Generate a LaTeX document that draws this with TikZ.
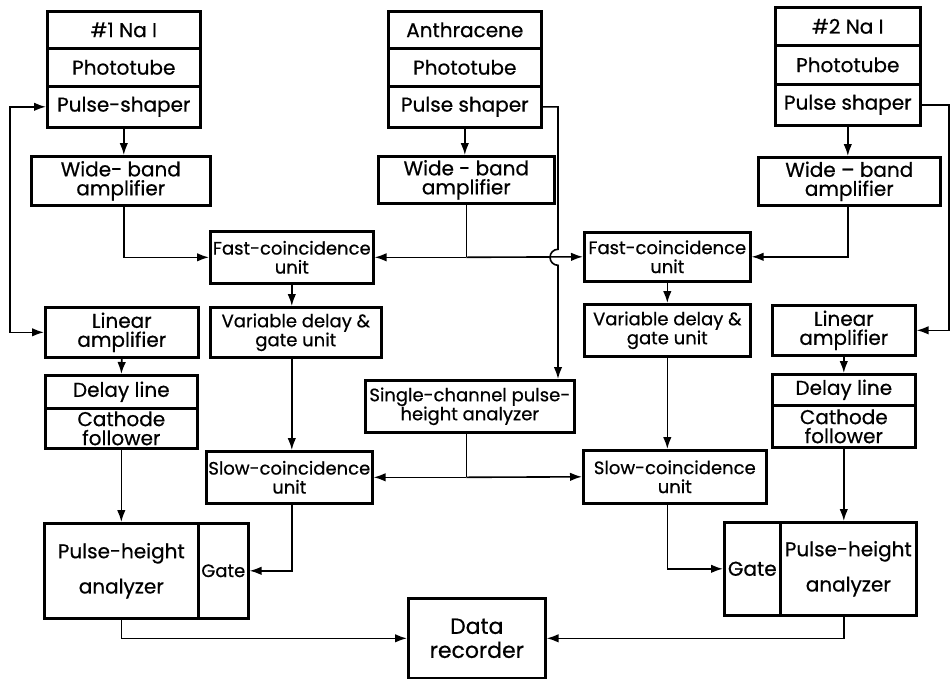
\documentclass[tikz,border=0pt]{standalone}
\usepackage{fontspec}
\setmainfont{Poppins}[FakeBold=0.6]
\usetikzlibrary{arrows.meta,calc}
\newcommand{\lbsize}{\fontsize{20}{19}\selectfont}
\newcommand{\lbtight}{\fontsize{18}{19}\selectfont}

\begin{document}
\begin{tikzpicture}[
    x=1pt, y=-1pt,
    >={Latex[length=12pt,width=8.5pt]},
    blk/.style={draw, line width=2.6pt, inner sep=0pt, anchor=north west, align=center, font=\lbsize},
    tight/.style={font=\lbtight},
    sz/.style 2 args={minimum width=#1, minimum height=#2},
    wire/.style={line width=1.6pt},
  ]
  \useasboundingbox (0,0) rectangle (952,678);
  % #1 NaI chain
  \node[blk, sz={153}{37}] (naiA) at (46,10) {\#1 Na I};
  \node[blk, sz={153}{38}] (photoA) at (46,47) {Phototube};
  \node[blk, sz={153}{41}] (shapeA) at (46,85) {Pulse-shaper};
  \node[blk, sz={179}{49}] (wideA) at (30,155) {Wide- band\\amplifier};
  \node[blk, tight, sz={163}{52}] (fastA) at (209,230) {Fast-coincidence\\unit};
  \node[blk, sz={153}{50}] (linA) at (44,306) {Linear\\amplifier};
  \node[blk, sz={152}{33}] (delayA) at (44,374) {Delay line};
  \node[blk, sz={152}{40}] (cathA) at (44,407) {Cathode\\follower};
  \node[blk, tight, sz={171}{50}] (varA) at (209,306) {Variable delay \&\\gate unit};
  \node[blk, tight, sz={166}{52}] (slowA) at (205,450) {Slow-coincidence\\unit};
  \node[blk, sz={154}{95}] (phaA) at (43,522) {Pulse-height\\[14pt]analyzer};
  \node[blk, tight, sz={50}{95}] (gateA) at (197,522) {Gate};
  % anthracene chain
  \node[blk, sz={153}{37}] (anth) at (387,10) {Anthracene};
  \node[blk, sz={153}{38}] (photoM) at (387,47) {Phototube};
  \node[blk, sz={153}{41}] (shapeM) at (387,85) {Pulse shaper};
  \node[blk, sz={176}{47}] (wideM) at (377,155) {Wide - band\\amplifier};
  \node[blk, tight, sz={209}{52}] (single) at (364,379) {Single-channel pulse-\\height analyzer};
  \node[blk, font=\fontsize{22}{24}\selectfont, sz={137}{80}] (rec) at (407,597) {Data\\recorder};
  % #2 NaI chain
  \node[blk, sz={145}{38}] (naiB) at (774,6) {\#2 Na I};
  \node[blk, sz={145}{39}] (photoB) at (774,44) {Phototube};
  \node[blk, sz={145}{41}] (shapeB) at (774,83) {Pulse shaper};
  \node[blk, sz={182}{48}] (wideB) at (757,156) {Wide -- band\\amplifier};
  \node[blk, tight, sz={166}{49}] (fastB) at (583,231) {Fast-coincidence\\unit};
  \node[blk, tight, sz={166}{52}] (varB) at (583,303) {Variable delay \&\\gate unit};
  \node[blk, sz={143}{50}] (linB) at (771,304) {Linear\\amplifier};
  \node[blk, sz={143}{31}] (delayB) at (771,373) {Delay line};
  \node[blk, sz={143}{42}] (cathB) at (771,404) {Cathode\\follower};
  \node[blk, tight, sz={183}{53}] (slowB) at (582,449) {Slow-coincidence\\unit};
  \node[blk, sz={56}{93}] (gateB) at (723,521) {Gate};
  \node[blk, sz={136}{93}] (phaB) at (779,521) {Pulse-height\\[14pt]analyzer};

  \coordinate (loopA) at (10,200);
  \coordinate (loopB) at (949,200);
  \coordinate (tapM) at (558,107);
  \coordinate (jM) at (wideM.south |- fastA.east);
  \coordinate (jS) at (jM |- slowA.east);

  % left side
  \draw[wire, ->] (shapeA.south) -- (shapeA.south |- wideA.north);
  \draw[wire, ->] (wideA.south -| shapeA.south) |- (fastA.west);
  \draw[wire, <->] (shapeA.west) -| (loopA) |- (linA.west);
  \draw[wire, ->] (linA.south) -- (delayA.north);
  \draw[wire, ->] (cathA.south) -- (cathA.south |- phaA.north);
  \draw[wire, ->] (fastA.south) -- (fastA.south |- varA.north);
  \draw[wire, ->] (varA.south -| fastA.south) -- (slowA.north -| fastA.south);
  \draw[wire, ->] (slowA.south -| fastA.south) |- (gateA.east);
  \draw[wire, ->] (phaA.south) |- (rec.west);
  % middle
  \draw[wire, ->] (shapeM.south) -- (shapeM.south |- wideM.north);
  \draw[wire] (wideM.south) -- (jM);
  \draw[wire, ->] (jM) -- (fastA.east);
  \draw[wire, ->] (jM) -- (fastB.west);
  \draw[wire, ->] (shapeM.east) -- (shapeM.east -| tapM) -- ($(jM -| tapM)+(0,-8)$)
    arc[start angle=270, end angle=90, radius=8] -- (single.north -| tapM);
  \draw[wire] (single.south -| jM) -- (jS);
  \draw[wire, ->] (jS) -- (slowA.east);
  \draw[wire, ->] (jS) -- (slowB.west);
  % right side
  \draw[wire, ->] (shapeB.south) -- (shapeB.south |- wideB.north);
  \draw[wire, ->] (wideB.south -| shapeB.south) |- (fastB.east);
  \draw[wire, ->] (shapeB.east) -| (loopB) |- (linB.east);
  \draw[wire, ->] (fastB.south) -- (varB.north);
  \draw[wire, ->] (varB.south) -- (varB.south |- slowB.north);
  \draw[wire, ->] (slowB.south -| varB.south) |- (gateB.west);
  \draw[wire, ->] (linB.south) -- (delayB.north);
  \draw[wire, ->] (cathB.south) -- (cathB.south |- phaB.north);
  \draw[wire, ->] (cathB.south |- phaB.south) |- (rec.east);
\end{tikzpicture}
\end{document}
